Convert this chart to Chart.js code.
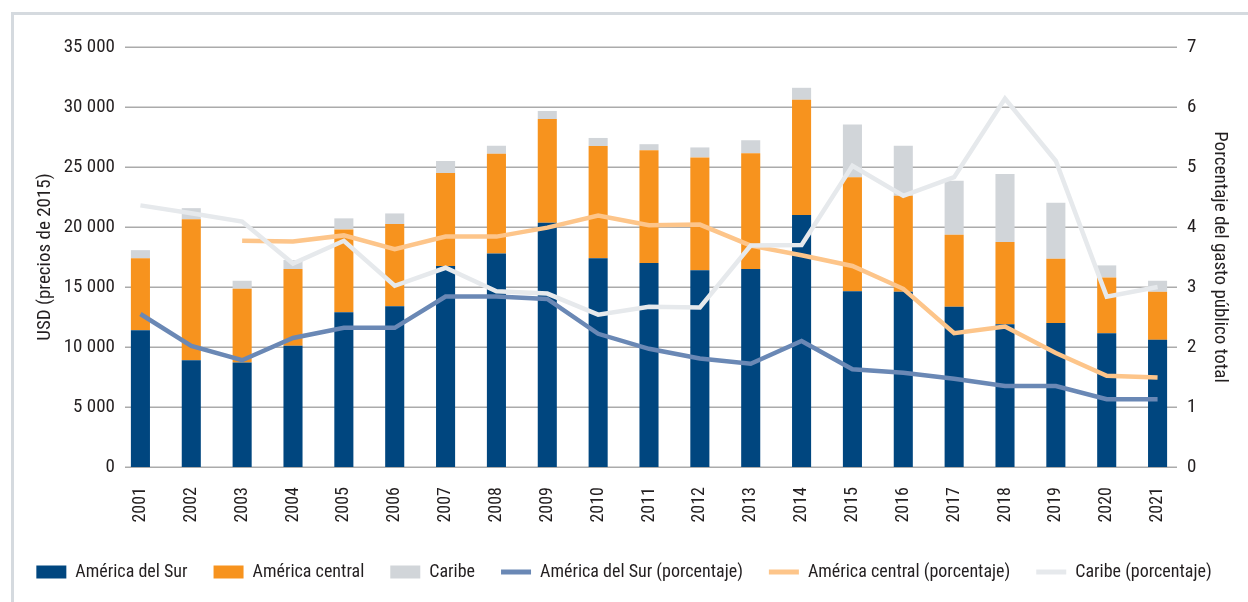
<!DOCTYPE html>
<html><head><meta charset="utf-8">
<script src="https://cdn.jsdelivr.net/npm/chart.js@4.4.0/dist/chart.umd.min.js"></script>
<style>
html,body{margin:0;padding:0;background:#fff;}
#wrap{position:relative;width:1248px;height:602px;overflow:hidden;}
#frame{position:absolute;left:11px;top:12px;width:1250px;height:600px;border-left:3px solid #D5DADF;border-top:3px solid #D5DADF;}
canvas{position:absolute;left:0;top:0;}
</style></head><body>
<div id="wrap"><div id="frame"></div><canvas id="c" width="1248" height="602"></canvas></div>
<script>
const years = ['2001','2002','2003','2004','2005','2006','2007','2008','2009','2010','2011','2012','2013','2014','2015','2016','2017','2018','2019','2020','2021'];
const surUSD = [11400, 8900, 8700, 10100, 12900, 13400, 16750, 17800, 20350, 17400, 17000, 16400, 16500, 21000, 14650, 14600, 13350, 11900, 12000, 11150, 10600];
const centralUSD = [6000, 11750, 6150, 6400, 6900, 6850, 7750, 8300, 8650, 9350, 9400, 9400, 9650, 9600, 9500, 8000, 6000, 6850, 5350, 4650, 4000];
const caribeUSD = [670, 920, 670, 750, 920, 880, 1000, 670, 670, 670, 500, 830, 1080, 1000, 4400, 4170, 4500, 5670, 4670, 1000, 920];
const surPct = [2.55, 2.02, 1.78, 2.15, 2.32, 2.32, 2.84, 2.84, 2.80, 2.22, 1.97, 1.81, 1.72, 2.10, 1.63, 1.57, 1.47, 1.35, 1.35, 1.13, 1.13];
const centralPct = [null, null, 3.77, 3.76, 3.86, 3.63, 3.84, 3.84, 3.99, 4.19, 4.03, 4.04, 3.69, 3.53, 3.35, 2.97, 2.23, 2.34, 1.90, 1.52, 1.49];
const caribePct = [4.36, 4.23, 4.09, 3.39, 3.77, 3.02, 3.32, 2.93, 2.89, 2.54, 2.67, 2.66, 3.69, 3.70, 5.02, 4.52, 4.83, 6.14, 5.10, 2.84, 3.00];
const seriesNames = ['América del Sur', 'América central', 'Caribe', 'América del Sur (porcentaje)', 'América central (porcentaje)', 'Caribe (porcentaje)'];
const leftTitle = 'USD (precios de 2015)';
const rightTitle = 'Porcentaje del gasto público total';

const FONT = "'Roboto Condensed', 'Roboto', sans-serif";
const TXT = '#231F20';
Chart.defaults.font.family = FONT;
Chart.defaults.color = TXT;

const gridPlugin = {
  id: 'customGrid',
  beforeDatasetsDraw(chart) {
    const ctx = chart.ctx, y = chart.scales.y, a = chart.chartArea;
    ctx.save();
    ctx.strokeStyle = '#ABABAB';
    ctx.lineWidth = 1.5;
    y.ticks.forEach(t => {
      const py = Math.round(y.getPixelForValue(t.value)) + 0.25;
      ctx.beginPath();
      ctx.moveTo(a.left + 10, py);
      ctx.lineTo(a.right - 6, py);
      ctx.stroke();
    });
    ctx.restore();
  }
};

const fmt = v => String(v).replace(/\B(?=(\d{3})+(?!\d))/g, ' ');

new Chart(document.getElementById('c'), {
  data: {
    labels: years,
    datasets: [
      {type:'bar', label: seriesNames[0], data: surUSD, backgroundColor:'#00467F', yAxisID:'y', order:4, stack:'s'},
      {type:'bar', label: seriesNames[1], data: centralUSD, backgroundColor:'#F7931E', yAxisID:'y', order:5, stack:'s'},
      {type:'bar', label: seriesNames[2], data: caribeUSD, backgroundColor:'#D1D5D9', yAxisID:'y', order:6, stack:'s'},
      {type:'line', label: seriesNames[3], data: surPct, borderColor:'#6A88B5', backgroundColor:'#6A88B5', borderWidth:4.5, pointRadius:0, tension:0, yAxisID:'y2', order:3},
      {type:'line', label: seriesNames[4], data: centralPct, borderColor:'#FDC58A', backgroundColor:'#FDC58A', borderWidth:4.5, pointRadius:0, tension:0, yAxisID:'y2', order:2},
      {type:'line', label: seriesNames[5], data: caribePct, borderColor:'#E6E9EC', backgroundColor:'#E6E9EC', borderWidth:4.5, pointRadius:0, tension:0, yAxisID:'y2', order:1}
    ]
  },
  options: {
    responsive: false,
    animation: false,
    layout: {padding: {top: 47, left: 0, right: 0, bottom: 11}},
    datasets: {bar: {categoryPercentage: 1, barPercentage: 0.375}},
    plugins: {
      tooltip: {enabled: false},
      legend: {
        position: 'bottom',
        labels: {
          usePointStyle: true,
          pointStyleWidth: 30,
          boxHeight: 13,
          padding: 26,
          color: TXT,
          font: {size: 18, family: FONT},
          generateLabels(chart) {
            return chart.data.datasets.map((ds, i) => {
              const isLine = ds.type === 'line';
              return {
                text: ds.label, datasetIndex: i, hidden: false,
                fillStyle: isLine ? ds.borderColor : ds.backgroundColor,
                strokeStyle: isLine ? ds.borderColor : ds.backgroundColor,
                lineWidth: isLine ? 5 : 0,
                pointStyle: isLine ? 'line' : 'rect',
                fontColor: TXT
              };
            });
          }
        }
      }
    },
    scales: {
      x: {
        stacked: true,
        grid: {display: false, drawTicks: false},
        border: {display: false},
        ticks: {minRotation: 90, maxRotation: 90, padding: 20, color: TXT, font: {size: 18}},
        afterFit(s) { s.height = 70; }
      },
      y: {
        position: 'left', stacked: true, min: 0, max: 35000,
        grid: {display: false, drawTicks: false},
        border: {display: false},
        ticks: {stepSize: 5000, padding: 0, color: TXT, font: {size: 19}, callback: v => fmt(v)},
        title: {display: true, text: leftTitle, color: TXT, font: {size: 19}, padding: {top: 33.5, bottom: 0}},
        afterFit(s) { s.width = 115; }
      },
      y2: {
        position: 'right', min: 0, max: 7,
        grid: {display: false, drawTicks: false},
        border: {display: false},
        ticks: {stepSize: 1, padding: 4, color: TXT, font: {size: 19}},
        title: {display: true, text: rightTitle, color: TXT, font: {size: 19}, padding: {top: 16.5, bottom: 0}},
        afterFit(s) { s.width = 65; }
      }
    }
  },
  plugins: [gridPlugin]
});
</script>
</body></html>
